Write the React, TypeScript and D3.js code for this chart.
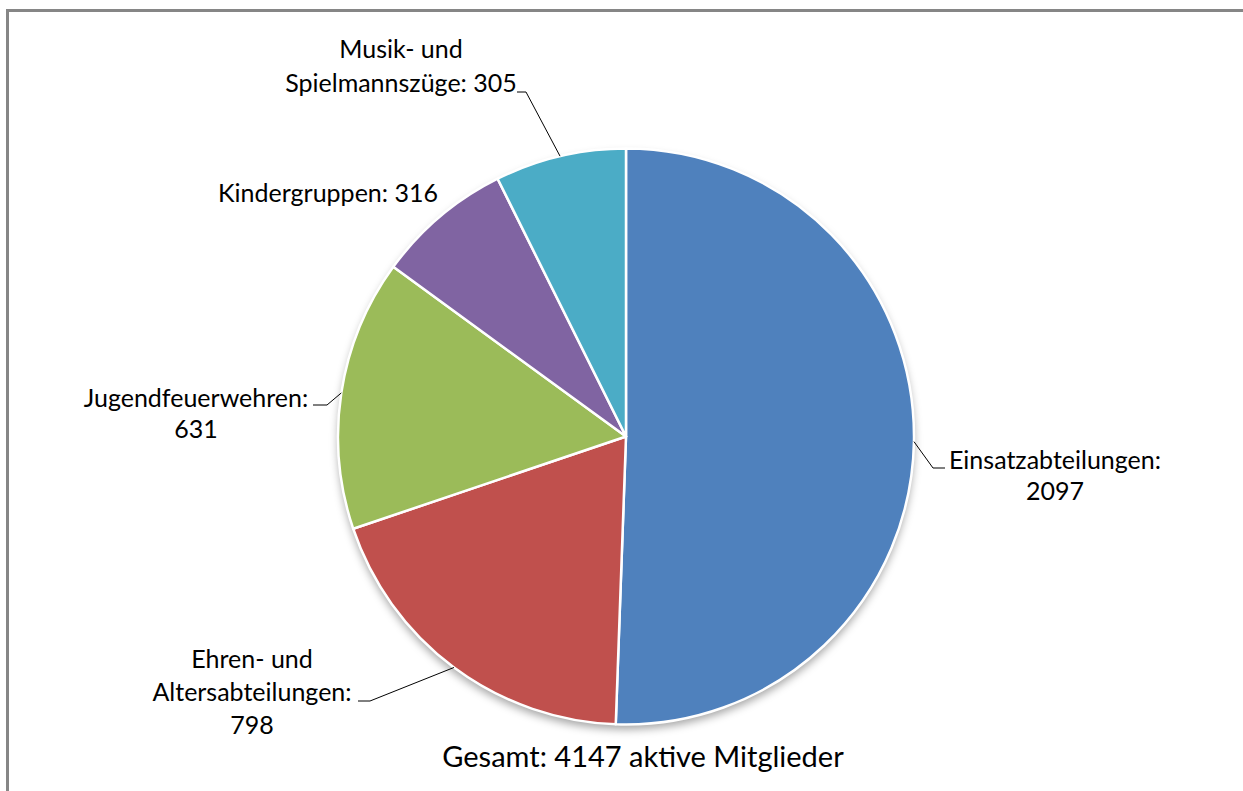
import * as d3 from "d3";
import { useEffect, useRef } from "react";

// Mitglieder nach Abteilung
const categories = [
  "Einsatzabteilungen",
  "Ehren- und Altersabteilungen",
  "Jugendfeuerwehren",
  "Kindergruppen",
  "Musik- und Spielmannszüge",
];
const values = [2097, 798, 631, 316, 305];
const colors = ["#4F81BD", "#C0504D", "#9BBB59", "#8064A2", "#4BACC6"];
const titleText = "Gesamt: 4147 aktive Mitglieder";

// how each label is broken into lines
const labelLines = [
  ["Einsatzabteilungen:", "2097"],
  ["Ehren- und", "Altersabteilungen:", "798"],
  ["Jugendfeuerwehren:", "631"],
  ["Kindergruppen: 316"],
  ["Musik- und", "Spielmannszüge: 305"],
];

const width = 1243;
const height = 791;
const cx = 626;
const cy = 436.5;
const radius = 288;
const font = "Lato, 'Open Sans', sans-serif";

// label placement: center x, first baseline, line height, leader elbow + end of short tick
const labelLayout = [
  { x: 1055, y: 469, lh: 31, elbow: [933, 468], tick: 945 },
  { x: 252, y: 668, lh: 33, elbow: [370, 701], tick: 358 },
  { x: 196, y: 407, lh: 31, elbow: [327, 405], tick: 313 },
  { x: 328, y: 202, lh: 30, elbow: null, tick: 0 },
  { x: 401, y: 58, lh: 34, elbow: [526, 92], tick: 517 },
];

const PieChart = () => {
  const ref = useRef<SVGSVGElement>(null);

  useEffect(() => {
    const svg = d3.select(ref.current);
    svg.selectAll("*").remove();

    const data = categories.map((c, i) => ({ name: c, value: values[i], i }));

    const defs = svg.append("defs");
    const filter = defs
      .append("filter")
      .attr("id", "shadow")
      .attr("x", "-10%")
      .attr("y", "-10%")
      .attr("width", "120%")
      .attr("height", "125%");
    filter
      .append("feDropShadow")
      .attr("dx", 0)
      .attr("dy", 5)
      .attr("stdDeviation", 4)
      .attr("flood-color", "#000")
      .attr("flood-opacity", 0.35);

    // frame (only top and left visible)
    svg
      .append("path")
      .attr("d", `M7.5,${height} V10.5 H${width}`)
      .attr("fill", "none")
      .attr("stroke", "#868686")
      .attr("stroke-width", 3);

    const pie = d3
      .pie<any>()
      .sort(null)
      .value((d) => d.value)
      .startAngle(0)
      .endAngle(2 * Math.PI);
    const arcs = pie(data);

    const arc = d3.arc<any>().innerRadius(0).outerRadius(radius);
    const edge = d3.arc<any>().innerRadius(radius).outerRadius(radius);

    const g = svg.append("g").attr("transform", `translate(${cx},${cy})`);

    g.append("circle")
      .attr("r", radius)
      .attr("fill", "#fff")
      .attr("filter", "url(#shadow)");

    g.selectAll("path.slice")
      .data(arcs)
      .join("path")
      .attr("class", "slice")
      .attr("d", arc)
      .attr("fill", (d) => colors[d.data.i])
      .attr("stroke", "#fff")
      .attr("stroke-width", 2.5)
      .attr("stroke-linejoin", "round");

    // leader lines
    arcs.forEach((d, i) => {
      const lay = labelLayout[i];
      if (!lay.elbow) return;
      const [ex, ey] = edge.centroid(d);
      const px = cx + ex;
      const py = cy + ey;
      svg
        .append("path")
        .attr(
          "d",
          `M${px},${py} L${lay.elbow[0]},${lay.elbow[1]} L${lay.tick},${lay.elbow[1]}`
        )
        .attr("fill", "none")
        .attr("stroke", "#000")
        .attr("stroke-width", 1);
    });

    // labels
    labelLines.forEach((lines, i) => {
      const lay = labelLayout[i];
      const t = svg
        .append("text")
        .attr("font-family", font)
        .attr("font-size", 25)
        .attr("fill", "#000")
        .attr("text-anchor", "middle");
      lines.forEach((line, j) => {
        t.append("tspan")
          .attr("x", lay.x)
          .attr("y", lay.y + j * lay.lh)
          .text(line);
      });
    });

    svg
      .append("text")
      .attr("x", 643)
      .attr("y", 767)
      .attr("font-family", font)
      .attr("font-size", 29)
      .attr("text-anchor", "middle")
      .attr("fill", "#000")
      .text(titleText);
  }, []);

  return (
    <svg
      ref={ref}
      width={width}
      height={height}
      style={{ position: "absolute", left: 0, top: 0, background: "#fff" }}
    />
  );
};

export default function App() {
  return <PieChart />;
}
